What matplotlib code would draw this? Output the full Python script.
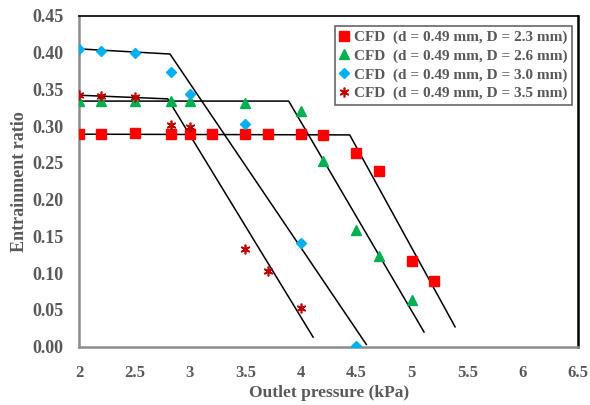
import matplotlib
matplotlib.use('Agg')
import matplotlib.pyplot as plt

plt.rcParams['font.family'] = ['Liberation Serif', 'DejaVu Serif']
plt.rcParams['font.weight'] = 'bold'

# CFD results, outlet pressure (kPa) vs entrainment ratio
x_23 = [2.0, 2.2, 2.5, 2.83, 3.0, 3.2, 3.5, 3.7, 4.0, 4.2, 4.5, 4.7, 5.0, 5.2]
y_23 = [0.289, 0.289, 0.290, 0.289, 0.289, 0.289, 0.289, 0.289, 0.289, 0.288,
        0.264, 0.239, 0.117, 0.089]
x_26 = [2.0, 2.2, 2.5, 2.83, 3.0, 3.5, 4.0, 4.2, 4.5, 4.7, 5.0]
y_26 = [0.334, 0.334, 0.334, 0.334, 0.334, 0.332, 0.320, 0.253, 0.159, 0.123, 0.064]
x_30 = [2.0, 2.2, 2.5, 2.83, 3.0, 3.5, 4.0, 4.5]
y_30 = [0.405, 0.402, 0.400, 0.373, 0.344, 0.303, 0.141, 0.001]
x_35 = [2.0, 2.2, 2.5, 2.83, 3.0, 3.5, 3.7, 4.0]
y_35 = [0.342, 0.341, 0.339, 0.301, 0.299, 0.133, 0.103, 0.052]

# piecewise trend lines (breakpoints)
trend_23 = ([2.0, 4.44, 5.39], [0.289, 0.288, 0.027])
trend_26 = ([2.0, 3.89, 5.11], [0.334, 0.334, 0.020])
trend_30 = ([2.0, 2.82, 4.59], [0.405, 0.398, 0.003])
trend_35 = ([2.0, 2.80, 4.11], [0.342, 0.337, 0.013])

labels = ['CFD  (d = 0.49 mm, D = 2.3 mm)',
          'CFD  (d = 0.49 mm, D = 2.6 mm)',
          'CFD  (d = 0.49 mm, D = 3.0 mm)',
          'CFD  (d = 0.49 mm, D = 3.5 mm)']

grey = '#595959'

fig = plt.figure(figsize=(5.9, 4.05), dpi=100)
ax = fig.add_axes([0.134, 0.144, 0.846, 0.817])

for tx, ty in [trend_23, trend_26, trend_30, trend_35]:
    ax.plot(tx, ty, color='black', linewidth=1.1, zorder=2)

ax.plot(x_23, y_23, 's', color='#FF0000', markersize=7.5, linestyle='none',
        label=labels[0], zorder=3)
ax.plot(x_26, y_26, '^', color='#00B050', markersize=6.5, linestyle='none',
        label=labels[1], zorder=3)
ax.plot(x_30, y_30, 'D', color='#00B0F0', markersize=5, linestyle='none',
        label=labels[2], zorder=3)
ax.plot(x_35, y_35, marker=(6, 2, 0), color='#C00000', markersize=7,
        markeredgewidth=1.2, linestyle='none', label=labels[3], zorder=3)

ax.set_xlim(2, 6.5)
ax.set_ylim(0, 0.45)
ax.set_xticks([2, 2.5, 3, 3.5, 4, 4.5, 5, 5.5, 6, 6.5])
ax.set_xticklabels(['2', '2.5', '3', '3.5', '4', '4.5', '5', '5.5', '6', '6.5'])
ax.set_yticks([i * 0.05 for i in range(10)])
ax.set_yticklabels([f'{i * 0.05:.2f}' for i in range(10)])
ax.tick_params(axis='x', length=0, labelsize=12, labelcolor=grey, pad=13)
ax.tick_params(axis='y', length=0, labelsize=13, labelcolor=grey, pad=11)
for lab in ax.get_xticklabels() + ax.get_yticklabels():
    lab.set_fontweight('bold')

ax.set_xlabel('Outlet pressure (kPa)', fontsize=12.5, color=grey,
              fontweight='bold', labelpad=3)
ax.set_ylabel('Entrainment ratio', fontsize=13, color=grey,
              fontweight='bold', labelpad=3)

ax.spines['left'].set_color('#8c8c8c')
ax.spines['bottom'].set_color('#8c8c8c')
ax.spines['left'].set_linewidth(1.8)
ax.spines['bottom'].set_linewidth(1.8)
ax.spines['top'].set_color('black')
ax.spines['right'].set_color('black')
ax.spines['top'].set_linewidth(1.2)
ax.spines['right'].set_linewidth(1.8)

leg = ax.legend(loc='upper right', bbox_to_anchor=(0.987, 0.97), fontsize=11,
                frameon=True, fancybox=False, edgecolor='#404040',
                handlelength=0.6, handletextpad=0.3, borderpad=0.3,
                labelspacing=0.32, borderaxespad=0)
leg.get_frame().set_linewidth(1.2)
for t in leg.get_texts():
    t.set_color(grey)
    t.set_fontweight('bold')

fig.savefig('out.png', dpi=100)
